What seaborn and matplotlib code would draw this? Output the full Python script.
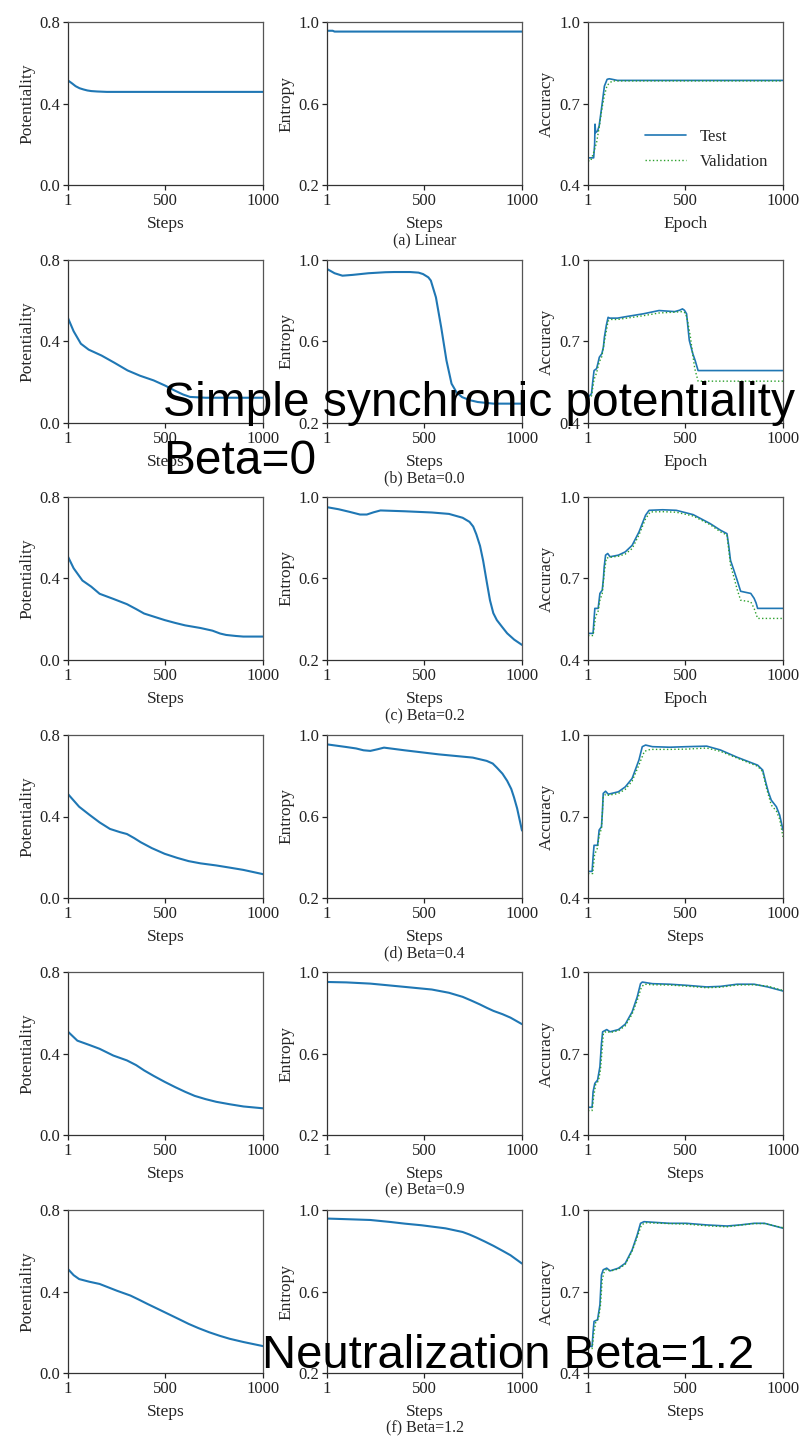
import matplotlib
matplotlib.use("Agg")
import matplotlib.pyplot as plt
import seaborn as sns

# ---------------- data ----------------
captions = ["(a) Linear", "(b) Beta=0.0", "(c) Beta=0.2", "(d) Beta=0.4", "(e) Beta=0.9", "(f) Beta=1.2"]
acc_xlabels = ["Epoch", "Epoch", "Epoch", "Steps", "Steps", "Steps"]
x_ticks = [1, 500, 1000]
pot_ticks = [0.0, 0.4, 0.8]
ent_ticks = [0.2, 0.6, 1.0]
acc_ticks = [0.4, 0.7, 1.0]

# (a) Linear
pot_a_x = [1, 20, 40, 60, 80, 100, 120, 150, 200, 400, 600, 800, 1000]
pot_a_y = [0.513, 0.50, 0.485, 0.475, 0.469, 0.464, 0.461, 0.459, 0.457, 0.457, 0.457, 0.457, 0.457]
ent_a_x = [1, 30, 40, 1000]
ent_a_y = [0.957, 0.957, 0.953, 0.953]
acc_a_test_x = [1, 13, 30, 35, 37, 40, 50, 58, 72, 85, 99, 110, 125, 152, 1000]
acc_a_test_y = [0.50, 0.50, 0.50, 0.55, 0.624, 0.593, 0.599, 0.617, 0.691, 0.764, 0.789, 0.791, 0.789, 0.785, 0.785]
acc_a_val_x = [1, 15, 30, 45, 60, 72, 85, 99, 125, 160, 1000]
acc_a_val_y = [0.489, 0.489, 0.52, 0.556, 0.62, 0.679, 0.73, 0.767, 0.783, 0.783, 0.783]

# (b) Beta=0.0
pot_b_x = [1, 30, 67, 107, 173, 240, 306, 370, 440, 500, 546, 590, 626, 706, 800, 1000]
pot_b_y = [0.515, 0.45, 0.389, 0.36, 0.331, 0.295, 0.258, 0.232, 0.209, 0.183, 0.16, 0.14, 0.128, 0.124, 0.124, 0.124]
ent_b_x = [1, 40, 80, 133, 213, 300, 346, 426, 470, 493, 520, 533, 559, 586, 613, 639, 665, 693, 733, 773, 853, 1000]
ent_b_y = [0.956, 0.935, 0.923, 0.927, 0.935, 0.94, 0.941, 0.941, 0.938, 0.931, 0.915, 0.899, 0.817, 0.67, 0.507, 0.393, 0.35, 0.327, 0.312, 0.303, 0.295, 0.295]
acc_b_test_x = [1, 19, 25, 32, 45, 52, 59, 72, 80, 85, 95, 104, 112, 152, 200, 285, 365, 445, 470, 485, 495, 506, 520, 538, 550, 565, 1000]
acc_b_test_y = [0.495, 0.508, 0.55, 0.593, 0.60, 0.62, 0.642, 0.655, 0.68, 0.716, 0.76, 0.789, 0.786, 0.786, 0.792, 0.802, 0.814, 0.81, 0.815, 0.82, 0.815, 0.802, 0.704, 0.655, 0.63, 0.593, 0.593]
acc_b_val_x = [1, 19, 32, 45, 59, 72, 85, 104, 120, 152, 285, 365, 445, 485, 500, 510, 525, 538, 548, 565, 1000]
acc_b_val_y = [0.49, 0.50, 0.56, 0.585, 0.625, 0.645, 0.70, 0.775, 0.781, 0.781, 0.795, 0.805, 0.808, 0.81, 0.805, 0.78, 0.72, 0.65, 0.60, 0.554, 0.554]

# (c) Beta=0.2
pot_c_x = [1, 30, 75, 120, 163, 233, 303, 350, 391, 450, 496, 550, 601, 680, 741, 780, 811, 860, 899, 1000]
pot_c_y = [0.507, 0.45, 0.39, 0.36, 0.325, 0.30, 0.274, 0.25, 0.228, 0.21, 0.196, 0.182, 0.17, 0.157, 0.144, 0.13, 0.123, 0.118, 0.115, 0.115]
ent_c_x = [1, 60, 117, 170, 205, 240, 275, 398, 538, 626, 696, 731, 750, 766, 785, 801, 820, 836, 853, 871, 900, 924, 960, 1000]
ent_c_y = [0.95, 0.94, 0.927, 0.914, 0.914, 0.925, 0.934, 0.930, 0.924, 0.917, 0.898, 0.878, 0.855, 0.817, 0.76, 0.687, 0.58, 0.493, 0.43, 0.396, 0.36, 0.331, 0.30, 0.274]
acc_c_test_x = [1, 27, 32, 36, 53, 58, 62, 74, 80, 84, 91, 102, 114, 157, 192, 227, 262, 296, 314, 383, 453, 540, 627, 679, 713, 722, 731, 748, 765, 783, 835, 852, 862, 870, 1000]
acc_c_test_y = [0.498, 0.498, 0.55, 0.59, 0.59, 0.62, 0.645, 0.657, 0.70, 0.743, 0.786, 0.792, 0.780, 0.786, 0.798, 0.822, 0.871, 0.933, 0.951, 0.953, 0.951, 0.935, 0.902, 0.878, 0.865, 0.82, 0.767, 0.731, 0.694, 0.653, 0.645, 0.627, 0.61, 0.59, 0.59]
acc_c_val_x = [1, 27, 40, 53, 62, 74, 84, 95, 114, 157, 192, 227, 262, 296, 320, 383, 453, 540, 627, 679, 713, 731, 748, 765, 783, 835, 852, 870, 1000]
acc_c_val_y = [0.49, 0.49, 0.56, 0.58, 0.62, 0.645, 0.72, 0.775, 0.778, 0.782, 0.79, 0.81, 0.86, 0.92, 0.945, 0.946, 0.944, 0.93, 0.898, 0.872, 0.86, 0.75, 0.706, 0.66, 0.62, 0.614, 0.59, 0.553, 0.553]

# (d) Beta=0.4
pot_d_x = [1, 58, 110, 163, 216, 268, 303, 340, 373, 430, 496, 560, 619, 680, 759, 830, 899, 1000]
pot_d_y = [0.51, 0.448, 0.409, 0.371, 0.339, 0.323, 0.314, 0.294, 0.274, 0.245, 0.217, 0.197, 0.181, 0.17, 0.16, 0.149, 0.138, 0.117]
ent_d_x = [1, 100, 150, 188, 223, 260, 293, 398, 573, 661, 748, 819, 850, 871, 900, 924, 945, 959, 975, 985, 1000]
ent_d_y = [0.954, 0.941, 0.934, 0.925, 0.922, 0.93, 0.938, 0.925, 0.905, 0.897, 0.889, 0.873, 0.86, 0.84, 0.81, 0.775, 0.735, 0.694, 0.64, 0.596, 0.531]
acc_d_test_x = [1, 22, 27, 32, 50, 54, 58, 70, 75, 79, 91, 105, 157, 192, 227, 262, 279, 296, 331, 420, 505, 609, 679, 765, 870, 896, 913, 925, 940, 966, 983, 1000]
acc_d_test_y = [0.498, 0.498, 0.55, 0.594, 0.594, 0.62, 0.65, 0.662, 0.72, 0.785, 0.793, 0.782, 0.791, 0.809, 0.84, 0.908, 0.957, 0.963, 0.957, 0.955, 0.957, 0.959, 0.945, 0.918, 0.889, 0.871, 0.822, 0.79, 0.76, 0.736, 0.705, 0.65]
acc_d_val_x = [1, 25, 35, 50, 58, 70, 79, 91, 105, 157, 192, 227, 262, 290, 320, 420, 505, 609, 679, 765, 870, 896, 913, 940, 966, 983, 1000]
acc_d_val_y = [0.49, 0.49, 0.56, 0.585, 0.63, 0.655, 0.77, 0.782, 0.778, 0.785, 0.80, 0.83, 0.89, 0.94, 0.947, 0.947, 0.948, 0.952, 0.94, 0.915, 0.885, 0.865, 0.81, 0.742, 0.72, 0.69, 0.625]

# (e) Beta=0.9
pot_e_x = [1, 49, 110, 163, 233, 303, 350, 391, 440, 496, 550, 601, 650, 706, 760, 829, 900, 1000]
pot_e_y = [0.507, 0.463, 0.442, 0.423, 0.39, 0.366, 0.343, 0.317, 0.29, 0.261, 0.235, 0.212, 0.192, 0.176, 0.163, 0.151, 0.14, 0.131]
ent_e_x = [1, 100, 223, 300, 398, 538, 626, 696, 740, 784, 820, 854, 900, 941, 1000]
ent_e_y = [0.951, 0.949, 0.943, 0.936, 0.927, 0.914, 0.898, 0.878, 0.86, 0.841, 0.824, 0.809, 0.793, 0.776, 0.744]
acc_e_test_x = [1, 22, 27, 36, 50, 62, 70, 76, 97, 114, 157, 192, 227, 253, 270, 279, 331, 418, 505, 609, 679, 765, 852, 922, 1000]
acc_e_test_y = [0.502, 0.502, 0.559, 0.59, 0.602, 0.651, 0.737, 0.78, 0.788, 0.78, 0.788, 0.808, 0.853, 0.908, 0.957, 0.963, 0.957, 0.955, 0.951, 0.945, 0.947, 0.955, 0.955, 0.945, 0.93]
acc_e_val_x = [1, 22, 30, 40, 55, 65, 74, 80, 97, 114, 157, 192, 227, 253, 275, 290, 331, 418, 505, 609, 679, 765, 852, 922, 1000]
acc_e_val_y = [0.49, 0.49, 0.54, 0.585, 0.60, 0.64, 0.72, 0.775, 0.782, 0.777, 0.784, 0.802, 0.845, 0.895, 0.945, 0.955, 0.953, 0.952, 0.948, 0.942, 0.944, 0.952, 0.953, 0.948, 0.932]

# (f) Beta=1.2
pot_f_x = [1, 30, 58, 110, 163, 251, 321, 360, 408, 460, 514, 570, 619, 670, 724, 780, 829, 900, 1000]
pot_f_y = [0.51, 0.48, 0.461, 0.448, 0.437, 0.404, 0.38, 0.362, 0.339, 0.315, 0.29, 0.264, 0.241, 0.22, 0.2, 0.182, 0.168, 0.152, 0.132]
ent_f_x = [1, 100, 223, 328, 400, 486, 608, 696, 730, 766, 810, 854, 900, 941, 1000]
ent_f_y = [0.958, 0.955, 0.951, 0.941, 0.933, 0.925, 0.91, 0.892, 0.88, 0.865, 0.845, 0.824, 0.8, 0.778, 0.737]
acc_f_test_x = [1, 22, 27, 32, 50, 62, 70, 79, 97, 114, 157, 192, 227, 253, 270, 288, 418, 505, 609, 713, 780, 852, 905, 1000]
acc_f_test_y = [0.498, 0.498, 0.55, 0.59, 0.596, 0.651, 0.761, 0.78, 0.786, 0.776, 0.786, 0.804, 0.853, 0.908, 0.951, 0.957, 0.951, 0.951, 0.945, 0.941, 0.945, 0.951, 0.951, 0.933]
acc_f_val_x = [1, 22, 30, 40, 55, 65, 74, 85, 97, 114, 157, 192, 227, 253, 275, 295, 418, 505, 609, 713, 780, 852, 905, 1000]
acc_f_val_y = [0.49, 0.49, 0.54, 0.585, 0.60, 0.65, 0.745, 0.775, 0.782, 0.775, 0.783, 0.80, 0.848, 0.9, 0.945, 0.953, 0.95, 0.948, 0.942, 0.938, 0.944, 0.95, 0.95, 0.935]

rows = [
    (pot_a_x, pot_a_y, ent_a_x, ent_a_y, acc_a_test_x, acc_a_test_y, acc_a_val_x, acc_a_val_y),
    (pot_b_x, pot_b_y, ent_b_x, ent_b_y, acc_b_test_x, acc_b_test_y, acc_b_val_x, acc_b_val_y),
    (pot_c_x, pot_c_y, ent_c_x, ent_c_y, acc_c_test_x, acc_c_test_y, acc_c_val_x, acc_c_val_y),
    (pot_d_x, pot_d_y, ent_d_x, ent_d_y, acc_d_test_x, acc_d_test_y, acc_d_val_x, acc_d_val_y),
    (pot_e_x, pot_e_y, ent_e_x, ent_e_y, acc_e_test_x, acc_e_test_y, acc_e_val_x, acc_e_val_y),
    (pot_f_x, pot_f_y, ent_f_x, ent_f_y, acc_f_test_x, acc_f_test_y, acc_f_val_x, acc_f_val_y),
]

# ---------------- style ----------------
sns.set_theme(style="ticks")
plt.rcParams["font.family"] = ["Liberation Serif", "DejaVu Serif"]
plt.rcParams["axes.edgecolor"] = "#333333"
plt.rcParams["axes.linewidth"] = 0.9
plt.rcParams["xtick.color"] = "#222222"
plt.rcParams["ytick.color"] = "#222222"
plt.rcParams["xtick.major.size"] = 3.5
plt.rcParams["ytick.major.size"] = 3.5

W, H = 807, 1440
fig = plt.figure(figsize=(W / 100, H / 100), dpi=100)

col_left = [68, 327, 588]
ax_w, ax_h = 195, 163
row_top = [22, 260, 497, 735, 972, 1210]
caption_y = [241, 478, 716, 953, 1190, 1428]

BLUE = "#1f77b4"
GREEN = "#2ca02c"
TICK_FS = 12
LABEL_FS = 12.5

def style_axis(ax, yticks, ylabel, xlabel):
    ax.set_xlim(1, 1000)
    ax.set_ylim(yticks[0], yticks[-1])
    ax.set_xticks(x_ticks)
    ax.set_xticklabels([str(t) for t in x_ticks])
    ax.set_yticks(yticks)
    ax.set_yticklabels([f"{t:.1f}" for t in yticks])
    ax.tick_params(axis="both", labelsize=TICK_FS, pad=2, width=0.9)
    ax.set_xlabel(xlabel, fontsize=LABEL_FS, labelpad=5)
    ax.set_ylabel(ylabel, fontsize=LABEL_FS, labelpad=3)
    for s in ax.spines.values():
        s.set_visible(True)
    ax.spines["top"].set_color("#555555")
    ax.spines["right"].set_color("#555555")

for r, (px, py, ex, ey, tx, ty, vx, vy) in enumerate(rows):
    axes = []
    for c in range(3):
        l = col_left[c] / W
        b = 1 - (row_top[r] + ax_h) / H
        axes.append(fig.add_axes([l, b, ax_w / W, ax_h / H]))
    a0, a1, a2 = axes
    sns.lineplot(x=px, y=py, ax=a0, color=BLUE, linewidth=1.5, estimator=None, sort=False)
    sns.lineplot(x=ex, y=ey, ax=a1, color=BLUE, linewidth=1.5, estimator=None, sort=False)
    sns.lineplot(x=tx, y=ty, ax=a2, color=BLUE, linewidth=1.2, estimator=None, sort=False,
                 label="Test" if r == 0 else None)
    sns.lineplot(x=vx, y=vy, ax=a2, color=GREEN, linewidth=1.0, linestyle=":", estimator=None, sort=False,
                 label="Validation" if r == 0 else None)
    style_axis(a0, pot_ticks, "Potentiality", "Steps")
    style_axis(a1, ent_ticks, "Entropy", "Steps")
    style_axis(a2, acc_ticks, "Accuracy", acc_xlabels[r])
    if r == 0:
        a2.legend(loc="lower right", frameon=False, fontsize=12, handlelength=2.5, labelspacing=0.55)
    elif a2.get_legend() is not None:
        a2.get_legend().remove()
    fig.text((col_left[1] + ax_w / 2) / W, 1 - caption_y[r] / H, captions[r],
             ha="center", va="center", fontsize=11.5)

# overlay annotations
fig.text(163 / W, 1 - 416 / H, "Simple synchronic potentiality", fontsize=34.5,
         family=["Liberation Sans", "DejaVu Sans"], ha="left", va="baseline", color="black", zorder=10)
fig.text(163 / W, 1 - 474 / H, "Beta=0", fontsize=34.5,
         family=["Liberation Sans", "DejaVu Sans"], ha="left", va="baseline", color="black", zorder=10)
fig.text(262 / W, 1 - 1368 / H, "Neutralization Beta=1.2", fontsize=34,
         family=["Liberation Sans", "DejaVu Sans"], ha="left", va="baseline", color="black", zorder=10)

fig.savefig("out.png", dpi=100)
